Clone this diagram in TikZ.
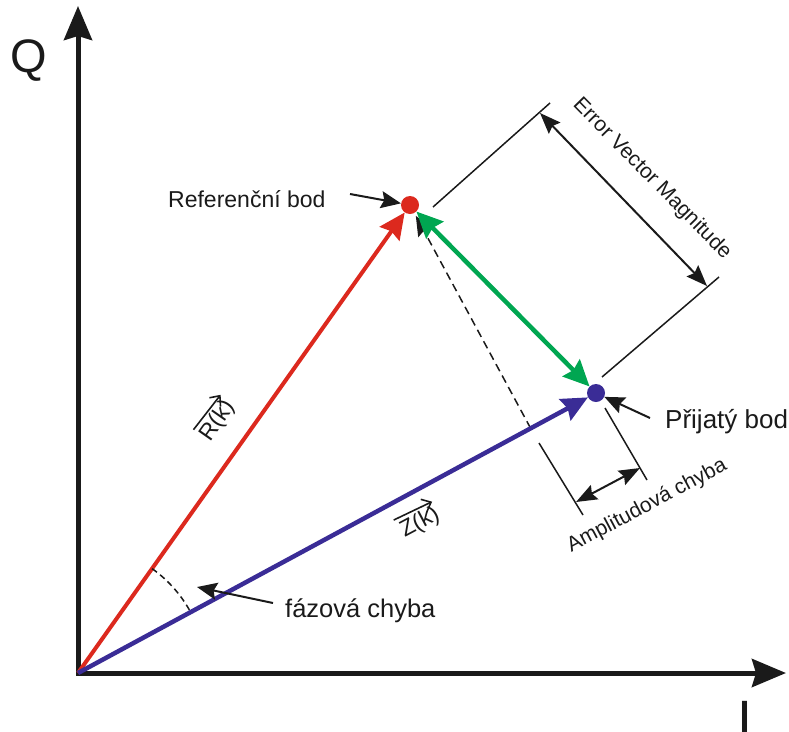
\documentclass[tikz,border=0pt]{standalone}
\usepackage{fontspec}
\setmainfont{Liberation Sans}
\usetikzlibrary{arrows.meta,calc}
\definecolor{vred}{RGB}{220,41,30}
\definecolor{vblue}{RGB}{58,44,150}
\definecolor{vgreen}{RGB}{0,166,81}
\definecolor{ink}{RGB}{26,26,26}
\begin{document}
\begin{tikzpicture}[x=1pt,y=1pt,
  axis/.style={line width=5pt, draw=ink, {Stealth[length=34pt,width=28pt,inset=4pt]}-{Stealth[length=34pt,width=28pt,inset=4pt]}},
  vec/.style={line width=4.5pt, -{Stealth[length=26pt,width=24pt,inset=3pt]}},
  gvec/.style={line width=4.5pt, draw=vgreen, {Stealth[length=26pt,width=24pt,inset=3pt]}-{Stealth[length=26pt,width=24pt,inset=3pt]}},
  pointer/.style={line width=2pt, draw=ink, -{Stealth[length=20pt,width=17pt,inset=3pt]}},
  dimline/.style={line width=2pt, draw=ink, {Stealth[length=21pt,width=16pt,inset=3pt]}-{Stealth[length=21pt,width=16pt,inset=3pt]}},
  ext/.style={line width=1.5pt, draw=ink},
  dot/.style={circle, inner sep=0pt, minimum size=18pt},
  lab/.style={inner sep=0pt, text=ink},
  overarrow/.style={line width=1.6pt, draw=ink, -{Straight Barb[length=8pt,width=14pt]}},
]
\useasboundingbox (0,0) rectangle (789,-731);

% axes
\coordinate (O) at (78,-673);
\coordinate (Qtip) at (78,-6);
\coordinate (Itip) at (786,-673);
\draw[axis] (Qtip) -- (O) -- (Itip);
\node[lab, anchor=base west, font=\fontsize{47}{50}\selectfont] (Qlab) at (10,-72) {Q};
\node[lab, anchor=base, font=\fontsize{54}{58}\selectfont] (Ilab) at (745,-738) {I};

% points
\node[dot, fill=vred] (R) at (410,-205) {};
\node[dot, fill=vblue] (B) at (596,-393) {};

% projection foot and dashed line
\coordinate (F) at ($(O)!(R)!(B)$);
\draw[line width=1.5pt, draw=ink, dash pattern=on 8pt off 5pt, shorten >=3pt,
      -{Stealth[length=20pt,width=16pt,inset=3pt]}] (F) -- (R);

% vectors
\draw[vec, draw=vred, fill=vred, line width=4pt] (O) -- (R);
\draw[vec, draw=vblue, fill=vblue] (O) -- (B);
\draw[gvec, fill=vgreen] (R) -- (B);

% phase error arc
\draw[line width=1.5pt, draw=ink, dash pattern=on 6pt off 4pt]
  ($(O)+(54.6:128)$) arc[start angle=54.6, end angle=28.4, radius=128];

% vector labels
\node[lab, rotate=55, font=\fontsize{23}{26}\selectfont] (rk) at (218,-421) {R(k)};
\draw[overarrow] ([shift={(-3pt,3pt)}]rk.north west) -- ([shift={(-1pt,2pt)}]rk.north east);
\node[lab, rotate=28, font=\fontsize{23}{26}\selectfont] (zk) at (420,-523) {Z(k)};
\draw[overarrow] ([shift={(-3pt,3pt)}]zk.north west) -- ([shift={(-1pt,2pt)}]zk.north east);

% pointer labels
\node[lab, anchor=base west, font=\fontsize{23}{27}\selectfont] (refl) at (168,-207) {Referenční bod};
\coordinate (refs) at (350,-194);
\draw[pointer] (refs) -- (R);

\node[lab, anchor=base west, font=\fontsize{26}{30}\selectfont] (rcvl) at (665,-428) {Přijatý bod};
\coordinate (rcvs) at (650,-418);
\draw[pointer] (rcvs) -- (B);

\node[lab, anchor=base west, font=\fontsize{25.5}{30}\selectfont] (phl) at (285,-617) {fázová chyba};
\coordinate (phs) at (273,-603);
\coordinate (pht) at (197,-587);
\draw[pointer] (phs) -- (pht);

% error vector magnitude dimension
\coordinate (e1a) at (433,-207);
\coordinate (e1b) at (550,-103);
\coordinate (e2a) at (602,-377);
\coordinate (e2b) at (719,-277);
\draw[ext] (e1a) -- (e1b);
\draw[ext] (e2a) -- (e2b);
\coordinate (d1) at (540,-113);
\coordinate (d2) at (707,-286);
\draw[dimline] (d1) -- (d2);
\node[lab, rotate=-45.5, font=\fontsize{21}{24}\selectfont] (evm) at (652,-179) {Error Vector Magnitude};

% amplitude error dimension
\coordinate (a1a) at (539,-443);
\coordinate (a1b) at (583,-515);
\coordinate (a2a) at (605,-408);
\coordinate (a2b) at (647,-480);
\draw[ext] (a1a) -- (a1b);
\draw[ext] (a2a) -- (a2b);
\coordinate (m1) at (576,-502);
\coordinate (m2) at (640,-468);
\draw[dimline] (m1) -- (m2);
\node[lab, rotate=28, font=\fontsize{21}{24}\selectfont] (ampl) at (647,-506) {Amplitudová chyba};
\end{tikzpicture}
\end{document}
